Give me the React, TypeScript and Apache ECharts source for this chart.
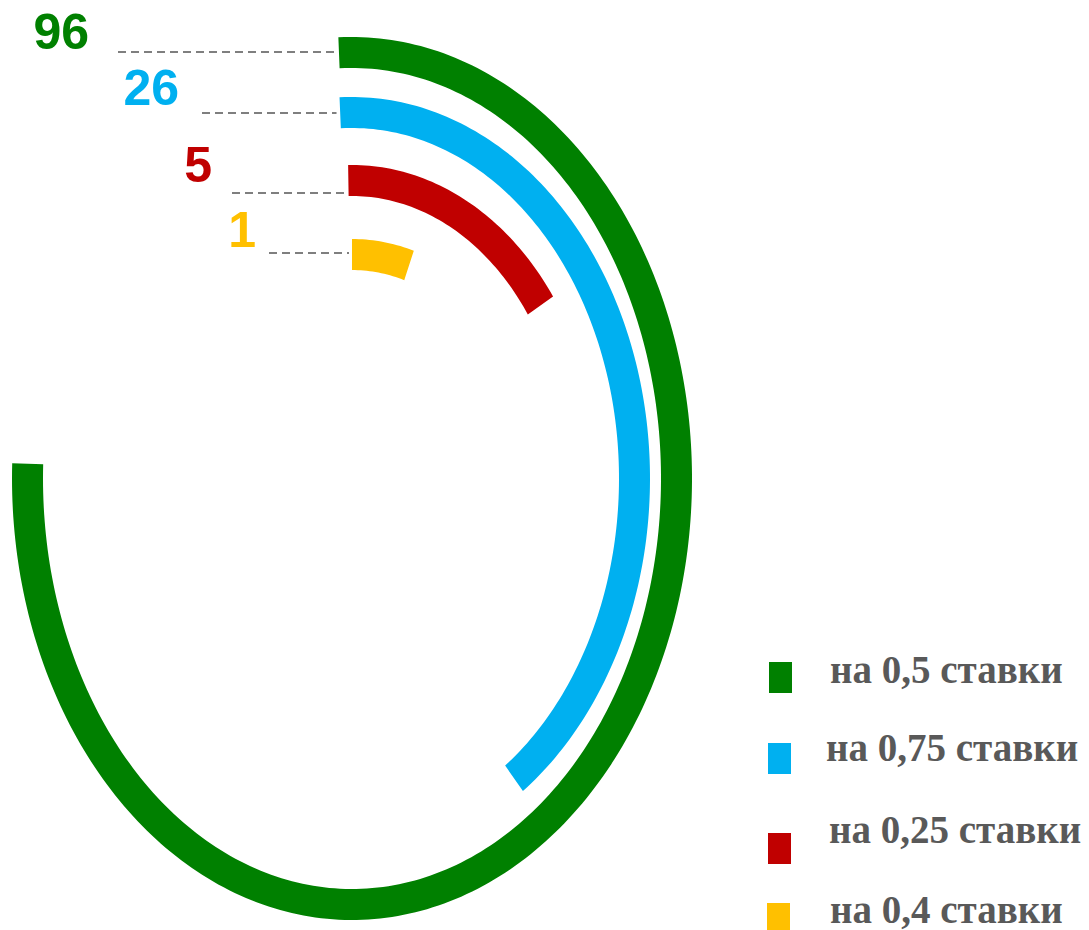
import React, { useEffect, useRef } from "react";
import * as echarts from "echarts";

// ---- data ----
const categories = ["на 0,5 ставки", "на 0,75 ставки", "на 0,25 ставки", "на 0,4 ставки"];
const values = [96, 26, 5, 1];
// scale of each ring (value that would close a full turn)
const ringMax = [126, 63.5, 32.5, 20];
const colors = ["#008000", "#00B0F0", "#C00000", "#FFC000"];

// ---- layout ----
const CX = 352;
const CY = 478.5;
const RING_W = 31;
const ringRx = [340, 298, 247, 200];
const ringRy = [441.5, 381.5, 313.5, 239.5];
const ringStartDeg = [-2.3, -2.4, -0.9, 0];
const leaderX = [118, 202, 232, 269];
const leaderY = [52, 113, 193, 253];
const labelRight = [89, 179, 212, 256];
const labelMidY = [32, 87.5, 164.5, 229.5];
const legendBoxX = [769, 768, 768, 767];
const legendBoxY = [662, 743, 833, 903];
const legendTextX = [830, 826, 829, 830];
const legendTextY = [669.5, 747.5, 829.5, 909.5];

export default function App() {
  const ref = useRef<HTMLDivElement>(null);
  useEffect(() => {
    if (!ref.current) return;
    const chart = echarts.init(ref.current, null, { renderer: "svg" });
    const data = categories.map((c, i) => ({ name: c, value: [i, values[i], ringMax[i]] }));
    const legendGraphics: any[] = [];
    categories.forEach((c, i) => {
      legendGraphics.push({
        type: "rect",
        shape: { x: legendBoxX[i], y: legendBoxY[i], width: 23, height: 31 },
        style: { fill: colors[i] },
      });
      legendGraphics.push({
        type: "text",
        style: {
          text: c,
          x: legendTextX[i],
          y: legendTextY[i],
          align: "left",
          verticalAlign: "middle",
          fill: "#595959",
          fontSize: 39,
          fontWeight: "bold",
          fontFamily: "Liberation Serif",
        },
      });
    });
    chart.setOption({
      animation: false,
      backgroundColor: "#ffffff",
      graphic: legendGraphics,
      series: [
        {
          type: "custom",
          coordinateSystem: "none",
          data,
          renderItem: (params: any, api: any) => {
            const i = params.dataIndex;
            const v = api.value(1);
            const max = api.value(2);
            const rx = ringRx[i];
            const ry = ringRy[i];
            const start = (ringStartDeg[i] * Math.PI) / 180;
            const sweep = (v / max) * 2 * Math.PI;
            const n = Math.max(8, Math.ceil((sweep * 180) / Math.PI));
            const pts: number[][] = [];
            for (let k = 0; k <= n; k++) {
              const t = start + (sweep * k) / n;
              pts.push([CX + rx * Math.sin(t), CY - ry * Math.cos(t)]);
            }
            for (let k = n; k >= 0; k--) {
              const t = start + (sweep * k) / n;
              pts.push([CX + (rx - RING_W) * Math.sin(t), CY - (ry - RING_W) * Math.cos(t)]);
            }
            const arcStartX = CX + rx * Math.sin(start);
            return {
              type: "group",
              children: [
                { type: "polygon", shape: { points: pts }, style: { fill: colors[i] } },
                {
                  type: "line",
                  shape: { x1: leaderX[i], y1: leaderY[i], x2: arcStartX - 3, y2: leaderY[i] },
                  style: { stroke: "#7F7F7F", lineWidth: 2, lineDash: [8, 5] },
                },
                {
                  type: "text",
                  style: {
                    text: String(v),
                    x: labelRight[i],
                    y: labelMidY[i],
                    align: "right",
                    verticalAlign: "middle",
                    fill: colors[i],
                    fontSize: 50,
                    fontWeight: "bold",
                    fontFamily: "Liberation Sans",
                  },
                },
              ],
            };
          },
        },
      ],
    });
    return () => chart.dispose();
  }, []);
  return (
    <div
      ref={ref}
      style={{ position: "fixed", left: 0, top: 0, width: 1089, height: 930 }}
    />
  );
}
